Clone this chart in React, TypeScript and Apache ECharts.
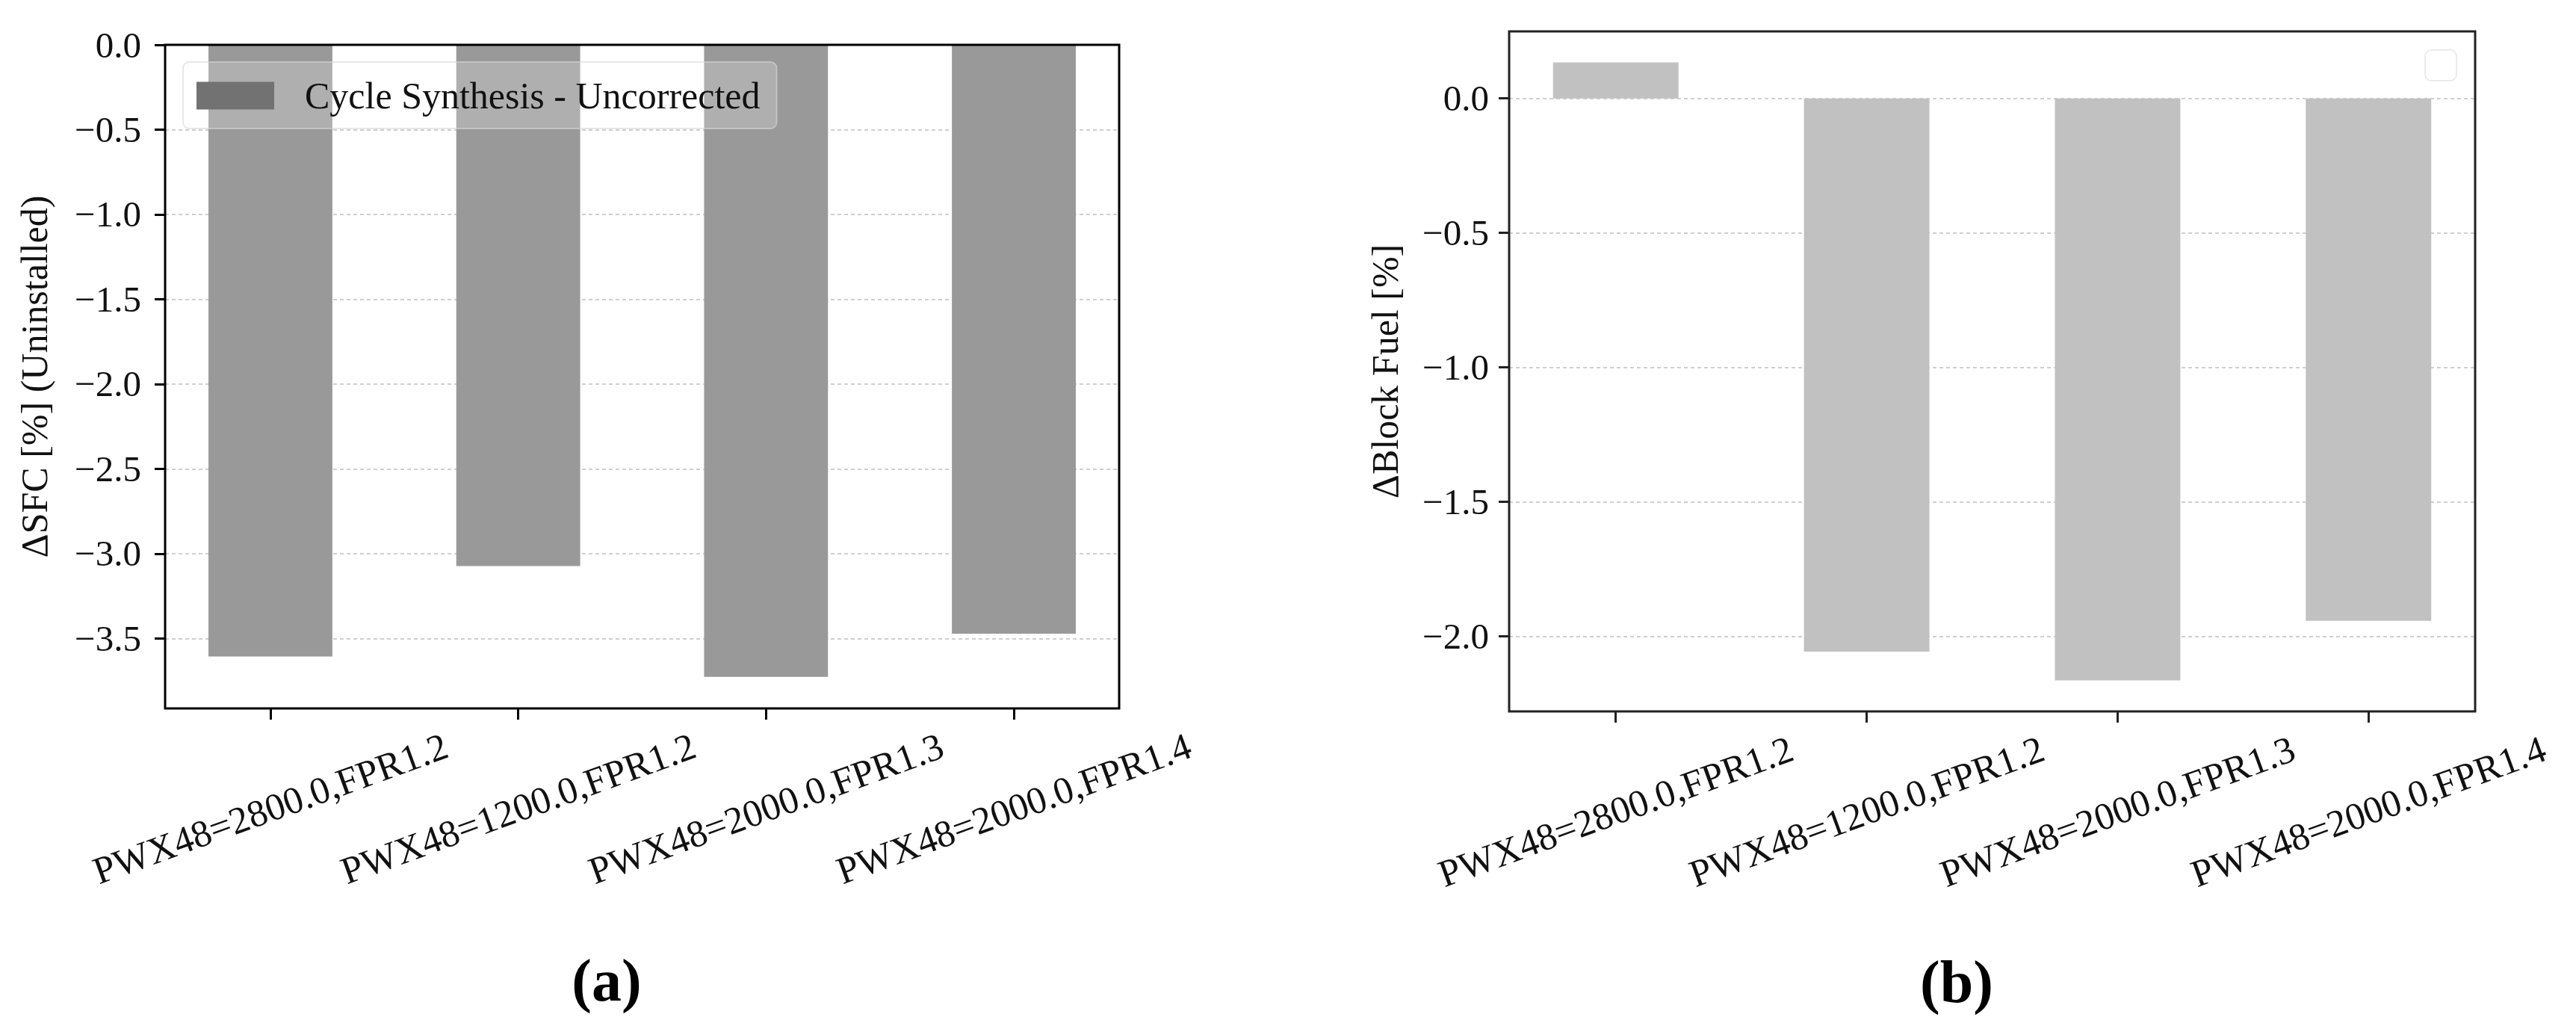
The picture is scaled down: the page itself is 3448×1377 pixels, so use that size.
import React, { useEffect, useRef } from 'react';
import * as echarts from 'echarts';

// ---- data ----
const categories = [
  'PWX48=2800.0,FPR1.2',
  'PWX48=1200.0,FPR1.2',
  'PWX48=2000.0,FPR1.3',
  'PWX48=2000.0,FPR1.4',
];
const categoryPositions = [0, 1, 2, 3];
const sfcValues = [-3.606, -3.073, -3.726, -3.471];
const blockFuelValues = [0.134, -2.057, -2.164, -1.942];
const sfcTicks = [0, -0.5, -1.0, -1.5, -2.0, -2.5, -3.0, -3.5];
const blockFuelTicks = [0, -0.5, -1.0, -1.5, -2.0];
const sfcRange = [-3.912, 0];
const blockFuelRange = [-2.279, 0.249];
const xRange = [-0.425, 3.425];
const legendLabel = 'Cycle Synthesis - Uncorrected';
const yTitleA = 'ΔSFC [%] (Uninstalled)';
const yTitleB = 'ΔBlock Fuel [%]';
const captionA = '(a)';
const captionB = '(b)';

const FONT = "'Liberation Serif', 'DejaVu Serif', serif";

const fmt = (v: number) =>
  Math.abs(v) < 1e-9 ? '0.0' : v.toFixed(1).replace('-', '\u2212');

const GA = { left: 221, top: 60, width: 1277, height: 888 };
const GB = { left: 2020, top: 42, width: 1293, height: 910 };

function makeX(gridIndex: number, frame: string) {
  return {
    type: 'value',
    gridIndex,
    position: 'bottom',
    min: xRange[0],
    max: xRange[1],
    axisLine: { show: false, onZero: false },
    splitLine: { show: false },
    axisTick: {
      show: true,
      customValues: categoryPositions,
      inside: false,
      length: 15,
      lineStyle: { color: frame, width: 3 },
    },
    axisLabel: {
      show: true,
      customValues: categoryPositions,
      formatter: (v: number) => categories[Math.round(v)],
      rotate: 20,
      align: 'center',
      verticalAlign: 'middle',
      margin: 134,
      fontSize: 51,
      fontFamily: FONT,
      color: '#111',
    },
  };
}

function makeY(
  gridIndex: number,
  range: number[],
  ticks: number[],
  name: string,
  nameGap: number,
  margin: number,
  frame: string
) {
  return {
    type: 'value',
    gridIndex,
    position: 'left',
    min: range[0],
    max: range[1],
    name,
    nameLocation: 'middle',
    nameGap,
    nameTextStyle: { fontSize: 50, fontFamily: FONT, color: '#111' },
    axisLine: { show: false, onZero: false },
    axisTick: {
      show: true,
      customValues: ticks,
      inside: false,
      length: 14,
      lineStyle: { color: frame, width: 3 },
    },
    axisLabel: {
      show: true,
      customValues: ticks,
      formatter: fmt,
      margin,
      fontSize: 49,
      fontFamily: FONT,
      color: '#111',
    },
    splitLine: {
      show: true,
      lineStyle: { color: '#cfcfcf', width: 2, type: [5, 4] },
    },
  };
}

function frameRect(g: { left: number; top: number; width: number; height: number }, color: string) {
  return {
    type: 'rect',
    z: 100,
    silent: true,
    shape: { x: g.left, y: g.top, width: g.width, height: g.height },
    style: { fill: 'none', stroke: color, lineWidth: 3 },
  };
}

export default function App() {
  const ref = useRef<HTMLDivElement>(null);

  useEffect(() => {
    if (!ref.current) return;
    const chart = echarts.init(ref.current, undefined, { renderer: 'svg' });
    const bwA = (GA.width / (xRange[1] - xRange[0])) * 0.5;
    const bwB = (GB.width / (xRange[1] - xRange[0])) * 0.5;

    chart.setOption({
      animation: false,
      backgroundColor: '#ffffff',
      grid: [
        { ...GA, show: false, containLabel: false },
        { ...GB, show: false, containLabel: false },
      ],
      xAxis: [makeX(0, '#000'), makeX(1, '#222')],
      yAxis: [
        makeY(0, sfcRange, sfcTicks, yTitleA, 150, 32, '#000'),
        makeY(1, blockFuelRange, blockFuelTicks, yTitleB, 141, 27, '#222'),
      ],
      legend: {
        left: 245,
        top: 83,
        orient: 'vertical',
        selectedMode: false,
        itemWidth: 104,
        itemHeight: 37,
        padding: [20, 22, 19, 18],
        backgroundColor: 'rgba(255,255,255,0.22)',
        borderColor: 'rgba(215,215,215,0.6)',
        borderWidth: 2,
        borderRadius: 8,
        textStyle: {
          fontSize: 50,
          fontFamily: FONT,
          color: '#111',
          padding: [0, 0, 0, 36],
        },
        data: [{ name: legendLabel, icon: 'rect', itemStyle: { color: '#727272' } }],
      },
      series: [
        {
          type: 'bar',
          name: legendLabel,
          xAxisIndex: 0,
          yAxisIndex: 0,
          barWidth: bwA,
          itemStyle: { color: '#999999' },
          data: categoryPositions.map((p, i) => [p, sfcValues[i]]),
        },
        {
          type: 'bar',
          name: 'Block Fuel',
          xAxisIndex: 1,
          yAxisIndex: 1,
          barWidth: bwB,
          itemStyle: { color: '#c1c1c1' },
          data: categoryPositions.map((p, i) => [p, blockFuelValues[i]]),
        },
      ],
      graphic: [
        frameRect(GA, '#000'),
        frameRect(GB, '#222'),
        {
          type: 'rect',
          shape: { x: 3246, y: 67, width: 42, height: 41, r: 8 },
          style: { fill: '#ffffff', stroke: '#ebebeb', lineWidth: 2 },
          z: 100,
        },
        {
          type: 'text',
          x: 812,
          y: 1312,
          style: {
            text: captionA,
            fontSize: 80,
            fontWeight: 'bold',
            fontFamily: FONT,
            fill: '#000',
            align: 'center',
            verticalAlign: 'middle',
          },
        },
        {
          type: 'text',
          x: 2619,
          y: 1314,
          style: {
            text: captionB,
            fontSize: 80,
            fontWeight: 'bold',
            fontFamily: FONT,
            fill: '#000',
            align: 'center',
            verticalAlign: 'middle',
          },
        },
      ],
    });

    return () => chart.dispose();
  }, []);

  return (
    <div
      ref={ref}
      style={{
        position: 'fixed',
        left: 0,
        top: 0,
        width: 3448,
        height: 1377,
        background: '#fff',
      }}
    />
  );
}
